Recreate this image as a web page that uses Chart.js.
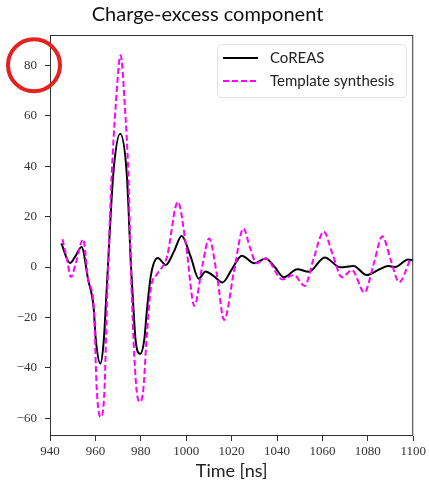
<!DOCTYPE html>
<html>
<head>
<meta charset="utf-8">
<script src="https://cdn.jsdelivr.net/npm/chart.js@4.4.0/dist/chart.umd.min.js"></script>
<style>
  html, body { margin: 0; padding: 0; background: #fff; }
  #wrap { width: 429px; height: 483px; }
</style>
</head>
<body>
<div id="wrap"><canvas id="chart" width="429" height="483"></canvas></div>
<script>
// CoREAS trace
const coreasTime = [945, 948.8, 951, 953.9, 956.8, 959.2, 960.2, 962.2, 963.7, 964.6, 965.5, 967.9, 970.9, 973.8, 975.7, 976.7, 977.7, 979.7, 981.5, 982.7, 984.5, 987.5, 991, 994.5, 998, 1002, 1005.5, 1008.5, 1012, 1016, 1020, 1024.5, 1030, 1035, 1039, 1043, 1048.9, 1054, 1061, 1067.9, 1073.7, 1079.5, 1085, 1089, 1092, 1097.8, 1100];
const coreasField = [9.4, 1.6, 4, 7.9, -5, -16, -29, -38.3, -29, -15, 0, 37, 52.8, 37, 0, -15.7, -29, -34.5, -29, -17, -3, 3.6, 0.8, 6, 12.3, 4, -4.6, -1.8, -3.5, -6.1, -1, 4.5, 1.5, 3.4, 0, -4.1, -0.9, -1.9, 3.8, -0.1, 0.4, -3.2, -1, 0.4, 0, 3, 2.6];

// Template synthesis trace
const templateTime = [945.5, 947.5, 949.2, 951.5, 954.6, 956.8, 959.3, 960.6, 962.3, 964, 964.9, 965.6, 967.2, 968.9, 971.1, 973, 974.5, 975.6, 976.8, 978.1, 979.7, 981.1, 982.5, 984.5, 987, 991.5, 996.3, 1000, 1003.6, 1007, 1010.1, 1013.5, 1016.7, 1021, 1025.2, 1028, 1031, 1035, 1042.3, 1047.4, 1052.2, 1056, 1060.6, 1064.5, 1068.6, 1073, 1078.5, 1082.5, 1086.4, 1090, 1093.8, 1098.6];
const templateField = [11, 3, -4, 2, 11, -5, -16, -48.6, -59.5, -48.6, -20, 0, 37, 63.4, 84, 63.4, 37, 0, -29, -48.6, -53.4, -48.6, -29, -8, -3, 4, 25.8, 8, -15.4, 0, 11.3, -3, -21, -2, 15.3, 8, 1.5, 3.4, -4.9, -3.2, -7.5, 3, 14, 5, -4.1, -1.2, -10.1, 1, 12.2, 3, -6, 2.8];

const xTicks = [940, 960, 980, 1000, 1020, 1040, 1060, 1080, 1100];
const yTicks = [-60, -40, -20, 0, 20, 40, 60, 80];

const toPoints = (xs, ys) => xs.map((x, i) => ({ x: x, y: ys[i] }));
const tickFont = { family: "'Liberation Serif', 'DejaVu Serif', serif", size: 13 };

// matplotlib-like frame, legend and the red circle around the 80 label
const decorations = {
  id: "decorations",
  afterDatasetsDraw(chart) {
    const { ctx, chartArea: a, scales } = chart;
    ctx.save();
    ctx.strokeStyle = "#333";
    ctx.lineWidth = 1;
    ctx.strokeRect(a.left + 0.5, a.top + 0.5, a.right - a.left - 1, a.bottom - a.top - 1);

    // legend
    const lx = 217, ly = 44, lw = 189, lh = 53;
    ctx.fillStyle = "rgba(255,255,255,0.85)";
    ctx.strokeStyle = "#e2e2e2";
    ctx.beginPath();
    ctx.roundRect(lx + 0.5, ly + 0.5, lw, lh, 4);
    ctx.fill();
    ctx.stroke();
    ctx.font = "15px Lato, 'Open Sans', sans-serif";
    ctx.textBaseline = "middle";
    chart.data.datasets.forEach((ds, i) => {
      const y = ly + 14 + i * 23;
      ctx.strokeStyle = ds.borderColor;
      ctx.lineWidth = 2;
      ctx.setLineDash(ds.borderDash || []);
      ctx.beginPath();
      ctx.moveTo(lx + 6, y);
      ctx.lineTo(lx + 41, y);
      ctx.stroke();
      ctx.setLineDash([]);
      ctx.fillStyle = "#222";
      ctx.fillText(ds.label, lx + 53, y);
    });

    // red circle
    ctx.strokeStyle = "#e5221f";
    ctx.lineWidth = 4;
    ctx.beginPath();
    ctx.arc(a.left - 16, scales.y.getPixelForValue(80), 26, 0, Math.PI * 2);
    ctx.stroke();
    ctx.restore();
  }
};

new Chart(document.getElementById("chart"), {
  type: "line",
  data: {
    datasets: [
      {
        label: "CoREAS",
        data: toPoints(coreasTime, coreasField),
        borderColor: "#000",
        borderWidth: 2,
        pointRadius: 0,
        cubicInterpolationMode: "monotone",
        order: 2
      },
      {
        label: "Template synthesis",
        data: toPoints(templateTime, templateField),
        borderColor: "#ff00ff",
        borderWidth: 2,
        borderDash: [6, 3],
        pointRadius: 0,
        cubicInterpolationMode: "monotone",
        order: 1
      }
    ]
  },
  options: {
    responsive: false,
    animation: false,
    layout: { padding: { left: 0, right: 14, top: 0, bottom: 0 } },
    plugins: {
      legend: { display: false },
      tooltip: { enabled: false },
      title: {
        display: true,
        text: "Charge-excess component",
        color: "#111",
        font: { family: "Lato, 'Open Sans', sans-serif", size: 20, weight: "normal" },
        padding: { top: 3, bottom: 8 }
      }
    },
    scales: {
      x: {
        type: "linear",
        min: xTicks[0],
        max: xTicks[xTicks.length - 1],
        afterBuildTicks: (s) => { s.ticks = xTicks.map(v => ({ value: v })); },
        afterFit: (s) => { s.height = 47; },
        border: { display: false },
        grid: { drawOnChartArea: false, tickLength: 5, color: "#333" },
        ticks: { color: "#333", font: tickFont, padding: 3, maxRotation: 0, callback: (v) => String(v) },
        title: {
          display: true,
          text: "Time [ns]",
          color: "#222",
          font: { family: "Lato, 'Open Sans', sans-serif", size: 18 },
          padding: { top: 0, bottom: 1 }
        }
      },
      y: {
        type: "linear",
        min: -67,
        max: 92,
        afterBuildTicks: (s) => { s.ticks = yTicks.map(v => ({ value: v })); },
        afterFit: (s) => { s.width = 50; },
        border: { display: false },
        grid: { drawOnChartArea: false, tickLength: 5, color: "#333" },
        ticks: {
          color: "#333",
          font: tickFont,
          padding: 8,
          callback: (v) => v < 0 ? "\u2212" + Math.abs(v) : String(v)
        }
      }
    }
  },
  plugins: [decorations]
});
</script>
</body>
</html>
